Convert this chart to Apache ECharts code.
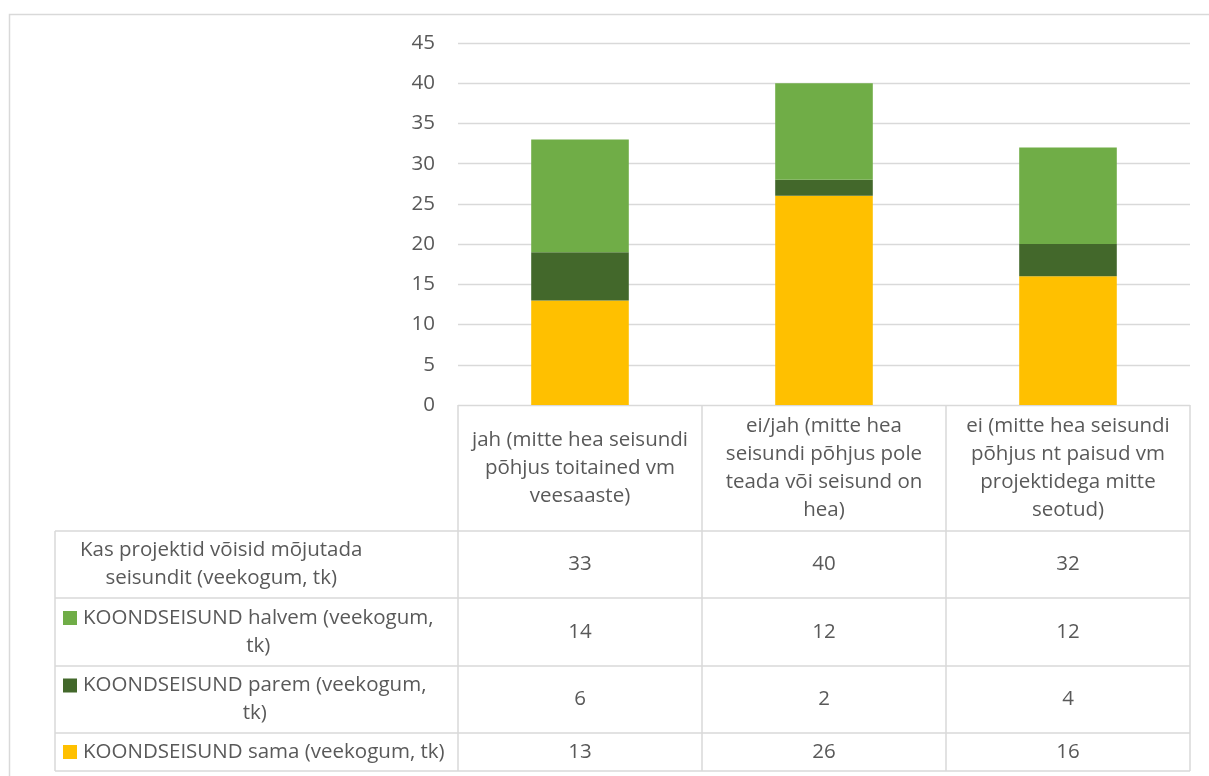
<!DOCTYPE html>
<html>
<head>
<meta charset="utf-8">
<script src="https://cdn.jsdelivr.net/npm/echarts@6/dist/echarts.min.js"></script>
<style>
  html, body { margin: 0; padding: 0; background: #ffffff; }
  #chart { width: 1209px; height: 776px; }
</style>
</head>
<body>
<div id="chart"></div>
<script>
// Categories (line breaks as they wrap in the table header)
const categories = [
  'jah (mitte hea seisundi\npõhjus toitained vm\nveesaaste)',
  'ei/jah (mitte hea\nseisundi põhjus pole\nteada või seisund on\nhea)',
  'ei (mitte hea seisundi\npõhjus nt paisud vm\nprojektidega mitte\nseotud)'
];

// Row names (line breaks as they wrap in the table)
const totalName  = 'Kas projektid võisid mõjutada\nseisundit (veekogum, tk)';
const worseName  = 'KOONDSEISUND halvem (veekogum,\ntk)';
const betterName = 'KOONDSEISUND parem (veekogum,\ntk)';
const sameName   = 'KOONDSEISUND sama (veekogum, tk)';

// Values (veekogum, tk)
const totals = [33, 40, 32];
const worse  = [14, 12, 12];
const better = [6, 2, 4];
const same   = [13, 26, 16];

// Value axis
const yMin = 0;
const yMax = 45;
const yStep = 5;

const FONT = "'Open Sans', 'Noto Sans', sans-serif";
const FONT_SIZE = 20.5;
const TEXT_COLOR = '#595959';
const LINE_COLOR = '#d9d9d9';
const COLORS = { same: '#FFC000', better: '#43682B', worse: '#70AD47' };

const oneLine = s => s.replace(/\n/g, ' ');

const chart = echarts.init(document.getElementById('chart'), null, { renderer: 'canvas' });

const option = {
  backgroundColor: '#ffffff',
  animation: false,
  textStyle: { fontFamily: FONT, color: TEXT_COLOR },
  grid: { left: 458, right: 19, top: 43, bottom: 371, containLabel: false, outerBoundsMode: 'none' },
  xAxis: {
    type: 'category',
    data: categories,
    axisLine: { show: false },
    axisTick: { show: false },
    axisLabel: {
      interval: 0,
      margin: 63,
      verticalAlign: 'middle',
      align: 'center',
      lineHeight: 28,
      fontSize: FONT_SIZE,
      fontFamily: FONT,
      color: TEXT_COLOR
    }
  },
  yAxis: {
    type: 'value',
    min: yMin,
    max: yMax,
    interval: yStep,
    axisLine: { show: false },
    axisTick: { show: false },
    axisLabel: { margin: 23, fontSize: FONT_SIZE, fontFamily: FONT, color: TEXT_COLOR },
    splitLine: { lineStyle: { color: LINE_COLOR, width: 1.3 } }
  },
  series: [
    { name: oneLine(sameName), type: 'bar', stack: 'seisund', data: same, barWidth: '40%',
      itemStyle: { color: COLORS.same } },
    { name: oneLine(betterName), type: 'bar', stack: 'seisund', data: better, barWidth: '40%',
      itemStyle: { color: COLORS.better } },
    { name: oneLine(worseName), type: 'bar', stack: 'seisund', data: worse, barWidth: '40%',
      itemStyle: { color: COLORS.worse } }
  ]
};

chart.setOption(option);

// Widest line of a multi-line label, for placing the centred block
const measureCtx = document.createElement('canvas').getContext('2d');
function blockWidth(text) {
  measureCtx.font = FONT_SIZE + 'px ' + FONT;
  return Math.max.apply(null, text.split('\n').map(l => measureCtx.measureText(l).width));
}

// Data table under the plot, aligned with the category bands
function buildTable() {
  const centers = categories.map((_, i) => chart.convertToPixel({ xAxisIndex: 0 }, i));
  const band = centers[1] - centers[0];
  const tableLeft = 55;
  const xs = [tableLeft].concat(centers.map(c => c - band / 2), [centers[centers.length - 1] + band / 2]);
  const yTop = chart.convertToPixel({ yAxisIndex: 0 }, yMin);

  const rows = [
    { name: totalName, values: totals, color: null, h: 67, left: 80 },
    { name: worseName, values: worse, color: COLORS.worse, h: 68, left: 83 },
    { name: betterName, values: better, color: COLORS.better, h: 67, left: 83 },
    { name: sameName, values: same, color: COLORS.same, h: 38, left: 83 }
  ];
  const headerH = 126;
  const ys = [yTop + headerH];
  rows.forEach(r => ys.push(ys[ys.length - 1] + r.h));
  const yBottom = ys[ys.length - 1];

  const els = [];
  const line = (x1, y1, x2, y2) => els.push({
    type: 'line', silent: true,
    shape: { x1, y1, x2, y2 },
    style: { stroke: LINE_COLOR, lineWidth: 1.5 }
  });

  // Outer frame of the chart area
  els.push({
    type: 'rect', silent: true,
    shape: { x: 9.5, y: 14.5, width: 1400, height: 1000 },
    style: { fill: 'none', stroke: LINE_COLOR, lineWidth: 1.5 }
  });

  // Grid lines of the table
  for (let i = 1; i < xs.length; i++) line(xs[i], yTop, xs[i], yBottom);
  line(xs[0], ys[0], xs[0], yBottom);
  ys.forEach(y => line(xs[0], y, xs[xs.length - 1], y));

  rows.forEach((r, ri) => {
    const y0 = ys[ri], y1 = ys[ri + 1];
    const yc = (y0 + y1) / 2;
    const nLines = r.name.split('\n').length;
    els.push({
      type: 'text', silent: true,
      style: {
        text: r.name, x: r.left + blockWidth(r.name) / 2, y: yc,
        align: 'center', verticalAlign: 'middle',
        lineHeight: 28,
        font: FONT_SIZE + 'px ' + FONT, fill: TEXT_COLOR
      }
    });
    if (r.color) {
      const keyY = yc - (nLines - 1) * 14;
      els.push({
        type: 'rect', silent: true,
        shape: { x: 63, y: keyY - 7, width: 14, height: 14 },
        style: { fill: r.color }
      });
    }
    r.values.forEach((v, ci) => {
      els.push({
        type: 'text', silent: true,
        style: {
          text: String(v), x: centers[ci], y: yc,
          align: 'center', verticalAlign: 'middle',
          font: FONT_SIZE + 'px ' + FONT, fill: TEXT_COLOR
        }
      });
    });
  });

  chart.setOption({ graphic: { elements: els } });
}

buildTable();
</script>
</body>
</html>
